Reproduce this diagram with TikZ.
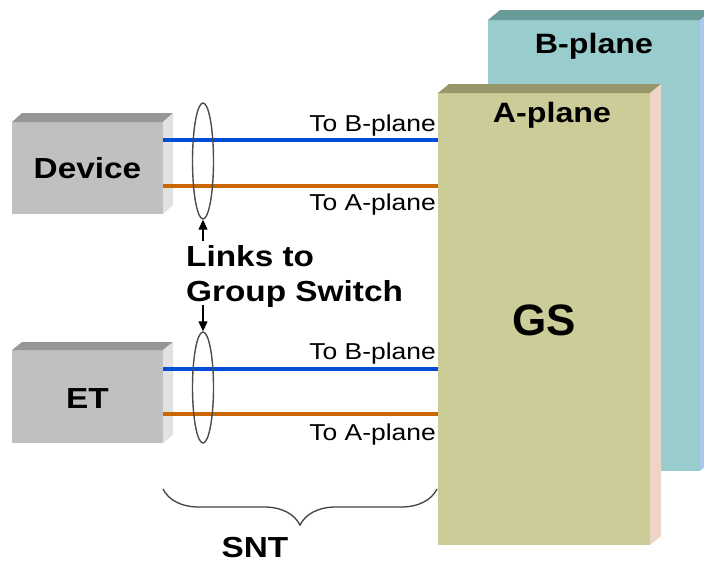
\documentclass[tikz,border=0pt]{standalone}
\usepackage{fontspec}
\newfontfamily\diagfont[FakeStretch=1.15]{Liberation Sans}
\newfontfamily\gsfont{Liberation Sans}
\usetikzlibrary{arrows.meta, positioning, shapes.geometric, decorations.pathreplacing, calc}
\usepackage{xcolor}

\definecolor{afront}{RGB}{204,204,153}
\definecolor{atop}{RGB}{150,150,104}
\definecolor{aside}{RGB}{238,212,196}
\definecolor{bfront}{RGB}{153,204,204}
\definecolor{btop}{RGB}{104,154,152}
\definecolor{bside}{RGB}{170,200,240}
\definecolor{boxfront}{RGB}{192,192,192}
\definecolor{boxtop}{RGB}{150,150,150}
\definecolor{boxside}{RGB}{226,226,226}
\definecolor{linkblue}{RGB}{0,78,215}
\definecolor{linkorange}{RGB}{204,102,0}

\begin{document}
\begin{tikzpicture}[
    x=1pt, y=-1pt,
    face/.style={
        inner sep=0pt,
        outer sep=0pt
    },
    boxtext/.style={
        font=\diagfont\bfseries\fontsize{29}{35}\selectfont,
        inner sep=0pt,
        anchor=base
    },
    planetext/.style={
        font=\diagfont\bfseries\fontsize{28}{33}\selectfont,
        inner sep=0pt,
        anchor=base
    },
    linklabel/.style={
        font=\diagfont\fontsize{23}{27}\selectfont,
        inner sep=0pt
    },
    blueline/.style={
        draw=linkblue,
        line width=4pt
    },
    orangeline/.style={
        draw=linkorange,
        line width=4pt
    },
    ring/.style={
        ellipse,
        draw=black!70,
        line width=1.4pt,
        inner sep=0pt,
        minimum width=21pt
    },
    linkarrow/.style={
        -{Triangle[length=10pt,width=9pt]},
        line width=1.2pt,
        black
    }
]

\useasboundingbox (0,0) rectangle (704,562);
\clip (0,0) rectangle (704,562);

% ============================================================
% B-PLANE
% ============================================================

\node[
    face,
    fill=bfront,
    minimum width=212pt,
    minimum height=451pt
] (bplane) at (594,245.5) {};

\fill[btop]
(bplane.north west) -- ++(12,-10) --
($(bplane.north east)+(12,-10)$) -- (bplane.north east) -- cycle;

\fill[bside]
(bplane.north east) -- ++(12,-10) --
($(bplane.south east)+(12,-10)$) -- (bplane.south east) -- cycle;

\node[planetext] (btitle) at ([yshift=-33pt]bplane.north) {B-plane};

% ============================================================
% A-PLANE
% ============================================================

\node[
    face,
    fill=afront,
    minimum width=212pt,
    minimum height=452pt
] (aplane) at (544,319) {};

\fill[atop]
(aplane.north west) -- ++(11,-9) --
($(aplane.north east)+(11,-9)$) -- (aplane.north east) -- cycle;

\fill[aside]
(aplane.north east) -- ++(11,-9) --
($(aplane.south east)+(11,-9)$) -- (aplane.south east) -- cycle;

\node[planetext] (atitle) at ([xshift=8pt,yshift=-29pt]aplane.north) {A-plane};

\node[
    font=\gsfont\bfseries\fontsize{44}{50}\selectfont,
    inner sep=0pt,
    anchor=base
] (gs) at (544,335) {GS};

% ============================================================
% DEVICE / ET
% ============================================================

\node[
    face,
    fill=boxfront,
    minimum width=151pt,
    minimum height=92pt
] (dev) at (87.5,168) {};

\fill[boxtop]
(dev.north west) -- ++(10,-9) --
($(dev.north east)+(10,-9)$) -- (dev.north east) -- cycle;

\fill[boxside]
(dev.north east) -- ++(10,-9) --
($(dev.south east)+(10,-9)$) -- (dev.south east) -- cycle;

\node[boxtext] (devtext) at (87.5,178) {Device};

\node[
    face,
    fill=boxfront,
    minimum width=151pt,
    minimum height=93pt
] (et) at (87.5,396.5) {};

\fill[boxtop]
(et.north west) -- ++(10,-8) --
($(et.north east)+(10,-8)$) -- (et.north east) -- cycle;

\fill[boxside]
(et.north east) -- ++(10,-8) --
($(et.south east)+(10,-8)$) -- (et.south east) -- cycle;

\node[boxtext] (ettext) at (87.5,408) {ET};

% ============================================================
% LINKS
% ============================================================

\draw[blueline]
([yshift=28pt]dev.east) -- ([yshift=28pt]dev.east -| aplane.west) coordinate (b1);
\draw[orangeline]
([yshift=-18pt]dev.east) -- ([yshift=-18pt]dev.east -| aplane.west) coordinate (a1);

\draw[blueline]
([yshift=27.5pt]et.east) -- ([yshift=27.5pt]et.east -| aplane.west) coordinate (b2);
\draw[orangeline]
([yshift=-17.5pt]et.east) -- ([yshift=-17.5pt]et.east -| aplane.west) coordinate (a2);

\node[linklabel, anchor=base east] (tob1) at ([xshift=-2pt,yshift=9pt]b1) {To B-plane};
\node[linklabel, anchor=base east] (toa1) at ([xshift=-2pt,yshift=-24pt]a1) {To A-plane};
\node[linklabel, anchor=base east] (tob2) at ([xshift=-2pt,yshift=10pt]b2) {To B-plane};
\node[linklabel, anchor=base east] (toa2) at ([xshift=-2pt,yshift=-26pt]a2) {To A-plane};

% Ringe
\node[ring, minimum height=116pt] (ring1) at (203,161) {};
\node[ring, minimum height=111pt] (ring2) at (203,387.5) {};

% Links to Group Switch
\node[
    font=\diagfont\bfseries\fontsize{29}{35}\selectfont,
    align=left,
    inner sep=0pt,
    anchor=north west
] (links) at (186,245)
{Links to\\Group Switch};

\draw[linkarrow] ([yshift=4pt]links.north -| ring1.south) -- (ring1.south);
\draw[linkarrow] ([yshift=2pt]links.south -| ring2.north) -- (ring2.north);

% ============================================================
% SNT
% ============================================================

\coordinate (sntl) at (et.east |- 0,489);
\coordinate (sntr) at ([xshift=-1pt]aplane.west |- 0,489);

\draw[
    decorate,
    decoration={brace, mirror, amplitude=36pt},
    line width=1.3pt,
    black!75
] (sntl) -- (sntr);

\node[boxtext] (snt) at (255,557) {SNT};

\end{tikzpicture}
\end{document}
